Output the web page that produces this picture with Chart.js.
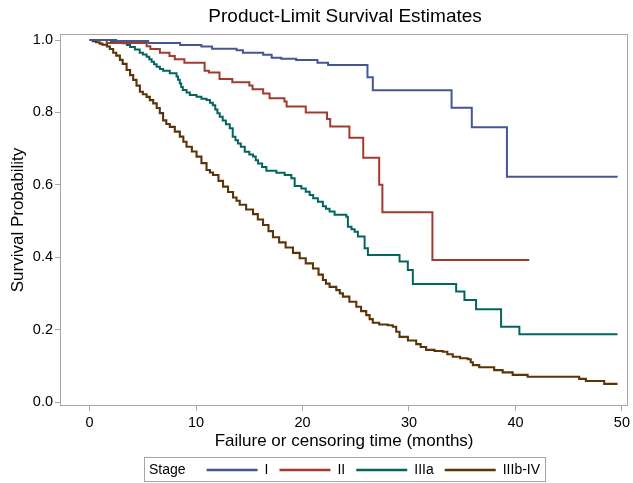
<!DOCTYPE html>
<html><head><meta charset="utf-8">
<script src="https://cdn.jsdelivr.net/npm/chart.js@4"></script>
<style>html,body{margin:0;padding:0;background:#fff}</style>
</head><body>
<canvas id="c" width="633" height="483" style="display:block;width:633px;height:483px"></canvas>
<script>
// ---- text ----
const chartTitle = 'Product-Limit Survival Estimates';
const xAxisTitle = 'Failure or censoring time (months)';
const yAxisTitle = 'Survival Probability';
const legendTitle = 'Stage';
const stageNames = ['I', 'II', 'IIIa', 'IIIb-IV'];
const xTickValues = [0, 10, 20, 30, 40, 50];
const yTickValues = [0, 0.2, 0.4, 0.6, 0.8, 1.0];

// ---- data (time in months, survival probability) ----
const stageI_time = [0, 2.5, 5.5, 8.5, 10.5, 11.5, 13.8, 14.4, 16.3, 17.1, 18.0, 19.4, 21.4, 22.4, 26.1, 26.6, 34.0, 35.9, 39.2, 49.6];
const stageI_surv = [1.0, 0.997, 0.992, 0.986, 0.982, 0.976, 0.972, 0.965, 0.959, 0.951, 0.948, 0.945, 0.937, 0.931, 0.897, 0.861, 0.813, 0.759, 0.622, 0.622];

const stageII_time = [0, 1.6, 5.35, 5.7, 6.6, 7.5, 8.0, 8.9, 10.8, 11.2, 12.2, 13.4, 15.0, 15.3, 16.3, 16.9, 18.3, 18.5, 20.3, 22.3, 22.6, 24.4, 25.7, 27.2, 27.5, 32.2, 41.3];
const stageII_surv = [1.0, 0.992, 0.983, 0.975, 0.965, 0.956, 0.947, 0.937, 0.915, 0.910, 0.892, 0.883, 0.874, 0.864, 0.852, 0.839, 0.830, 0.816, 0.800, 0.782, 0.761, 0.730, 0.675, 0.600, 0.524, 0.392, 0.392];

const stageIIIa_time = [0, 2.0, 2.8, 3.1, 3.5, 3.8, 4.25, 4.7, 5.0, 5.35, 5.6, 5.82, 6.05, 6.29, 6.6, 6.9, 7.53, 8.16, 8.3, 8.47, 8.6, 8.75, 9.1, 9.41, 10.04, 10.5, 10.98, 11.3, 11.57, 11.8, 12.0, 12.22, 12.5, 12.8, 13.16, 13.44, 13.7, 13.94, 14.2, 14.57, 15.0, 15.35, 15.6, 15.82, 16.2, 16.6, 17.54, 18.32, 18.95, 19.26, 19.89, 20.3, 20.67, 21.0, 21.44, 21.91, 22.2, 22.54, 23.01, 24.11, 24.26, 24.6, 24.89, 25.2, 25.83, 26.14, 29.11, 29.89, 30.36, 34.43, 35.21, 36.3, 38.65, 40.37, 49.59];
const stageIIIa_surv = [1.0, 0.997, 0.994, 0.991, 0.986, 0.981, 0.974, 0.965, 0.960, 0.954, 0.947, 0.940, 0.933, 0.926, 0.920, 0.915, 0.908, 0.899, 0.890, 0.880, 0.870, 0.862, 0.855, 0.848, 0.843, 0.838, 0.834, 0.827, 0.820, 0.808, 0.798, 0.788, 0.778, 0.767, 0.756, 0.733, 0.723, 0.714, 0.705, 0.691, 0.684, 0.678, 0.668, 0.659, 0.649, 0.639, 0.633, 0.627, 0.618, 0.597, 0.590, 0.581, 0.572, 0.563, 0.553, 0.541, 0.534, 0.526, 0.517, 0.512, 0.484, 0.477, 0.470, 0.457, 0.425, 0.406, 0.388, 0.365, 0.326, 0.305, 0.282, 0.256, 0.208, 0.187, 0.187];

const stageIIIb_time = [0, 0.3, 0.6, 0.94, 1.2, 1.62, 1.9, 2.21, 2.5, 2.84, 3.1, 3.47, 3.8, 4.09, 4.4, 4.72, 5.0, 5.35, 5.65, 5.97, 6.3, 6.59, 6.9, 7.2, 7.53, 8.0, 8.47, 8.8, 9.1, 9.6, 10.04, 10.5, 10.98, 11.3, 11.59, 12.1, 12.53, 13.0, 13.47, 13.8, 14.1, 14.7, 15.35, 15.8, 16.29, 16.8, 17.22, 17.8, 18.41, 19.1, 19.73, 20.3, 20.98, 21.5, 21.91, 22.2, 22.54, 23.17, 23.5, 23.79, 24.4, 25.05, 25.5, 25.98, 26.3, 26.6, 27.2, 28.0, 28.48, 28.8, 29.11, 29.9, 30.68, 31.1, 31.61, 32.4, 33.17, 33.6, 34.11, 34.8, 35.52, 35.8, 36.0, 36.6, 38.0, 38.8, 39.74, 41.14, 45.99, 46.62, 48.34, 49.59];
const stageIIIb_surv = [1.0, 0.997, 0.994, 0.990, 0.987, 0.982, 0.975, 0.965, 0.957, 0.945, 0.934, 0.917, 0.903, 0.890, 0.874, 0.857, 0.850, 0.843, 0.834, 0.825, 0.812, 0.798, 0.778, 0.768, 0.760, 0.747, 0.733, 0.719, 0.705, 0.692, 0.678, 0.660, 0.641, 0.634, 0.627, 0.611, 0.595, 0.580, 0.565, 0.556, 0.545, 0.532, 0.519, 0.504, 0.489, 0.472, 0.455, 0.441, 0.427, 0.412, 0.397, 0.383, 0.369, 0.352, 0.337, 0.327, 0.318, 0.309, 0.300, 0.291, 0.277, 0.263, 0.251, 0.240, 0.229, 0.219, 0.214, 0.212, 0.208, 0.194, 0.180, 0.170, 0.160, 0.152, 0.144, 0.141, 0.139, 0.132, 0.125, 0.121, 0.118, 0.110, 0.102, 0.096, 0.088, 0.082, 0.075, 0.070, 0.064, 0.058, 0.050, 0.050];

const stageColors = ['#445694', '#A23A2E', '#01665E', '#5b3508'];
const stageWidths = [2, 2, 2, 2.1];
const series = [
  [stageI_time, stageI_surv],
  [stageII_time, stageII_surv],
  [stageIIIa_time, stageIIIa_surv],
  [stageIIIb_time, stageIIIb_surv]
];

const FONT = '"Liberation Sans", Arial, sans-serif';
const frameColor = '#a6a6a6';

const datasets = series.map(([t, s], i) => ({
  label: stageNames[i],
  data: t.map((x, k) => ({ x: x, y: s[k] })),
  borderColor: stageColors[i],
  borderWidth: stageWidths[i],
  stepped: 'before',
  pointRadius: 0,
  fill: false,
  tension: 0
}));

const decor = {
  id: 'decor',
  beforeDraw(chart) {
    const c = chart.ctx;
    c.save(); c.fillStyle = '#fff'; c.fillRect(0, 0, chart.width, chart.height); c.restore();
  },
  afterDraw(chart) {
    const c = chart.ctx, a = chart.chartArea;
    c.save();
    // frame
    c.strokeStyle = frameColor; c.lineWidth = 1;
    c.strokeRect(Math.round(a.left) + 0.5, Math.round(a.top) + 0.5, Math.round(a.right - a.left) - 1, Math.round(a.bottom - a.top) - 1);
    // title
    c.fillStyle = '#000';
    c.font = '19px ' + FONT;
    c.textAlign = 'center'; c.textBaseline = 'middle';
    c.fillText(chartTitle, (a.left + a.right) / 2 + 1, 17);
    // legend
    c.font = '14px ' + FONT;
    c.textAlign = 'left';
    const ly = 470;
    const lineLen = 51, gapLine = 7, gapItem = 11, gapTitle = 21;
    let w = c.measureText(legendTitle).width + gapTitle;
    stageNames.forEach((n, i) => { w += lineLen + gapLine + c.measureText(n).width + (i < stageNames.length - 1 ? gapItem : 0); });
    const padX = 5;
    const boxW = w + padX * 2;
    const bx = Math.round((a.left + a.right) / 2 - boxW / 2);
    c.strokeStyle = frameColor; c.lineWidth = 1;
    c.strokeRect(bx + 0.5, 457.5, Math.round(boxW), 24);
    let x = bx + padX;
    c.fillStyle = '#000';
    c.fillText(legendTitle, x, ly);
    x += c.measureText(legendTitle).width + gapTitle;
    stageNames.forEach((n, i) => {
      c.strokeStyle = stageColors[i]; c.lineWidth = stageWidths[i] + 0.5;
      c.beginPath(); c.moveTo(x, ly); c.lineTo(x + lineLen, ly); c.stroke();
      x += lineLen + gapLine;
      c.fillStyle = '#000';
      c.fillText(n, x, ly);
      x += c.measureText(n).width + gapItem;
    });
    c.restore();
  }
};

new Chart(document.getElementById('c'), {
  type: 'line',
  data: { datasets },
  plugins: [decor],
  options: {
    responsive: false,
    animation: false,
    devicePixelRatio: 1,
    layout: { padding: { top: 34, right: 4, bottom: 31, left: 0 } },
    plugins: { legend: { display: false }, title: { display: false }, tooltip: { enabled: false } },
    scales: {
      x: {
        type: 'linear',
        min: -2.786, max: 50.59,
        afterFit(s) { s.height = 46; },
        afterBuildTicks(s) { s.ticks = xTickValues.map(v => ({ value: v })); },
        grid: { drawOnChartArea: false, drawTicks: true, tickLength: 5, color: frameColor },
        border: { display: false },
        ticks: { font: { family: FONT, size: 14.5 }, color: '#000', padding: 3, maxRotation: 0, callback: v => String(v) },
        title: { display: true, text: xAxisTitle, font: { family: FONT, size: 17 }, color: '#000', padding: { top: 0, bottom: 0 } }
      },
      y: {
        type: 'linear',
        min: -0.011, max: 1.0166,
        afterFit(s) { s.width = 60; },
        afterBuildTicks(s) { s.ticks = yTickValues.map(v => ({ value: v })); },
        grid: { drawOnChartArea: false, drawTicks: true, tickLength: 5, color: frameColor },
        border: { display: false },
        ticks: { font: { family: FONT, size: 14.5 }, color: '#000', padding: 2, callback: v => v.toFixed(1) },
        title: { display: true, text: yAxisTitle, font: { family: FONT, size: 17 }, color: '#000', padding: { top: 8, bottom: 0 } }
      }
    }
  }
});
</script>
</body></html>
